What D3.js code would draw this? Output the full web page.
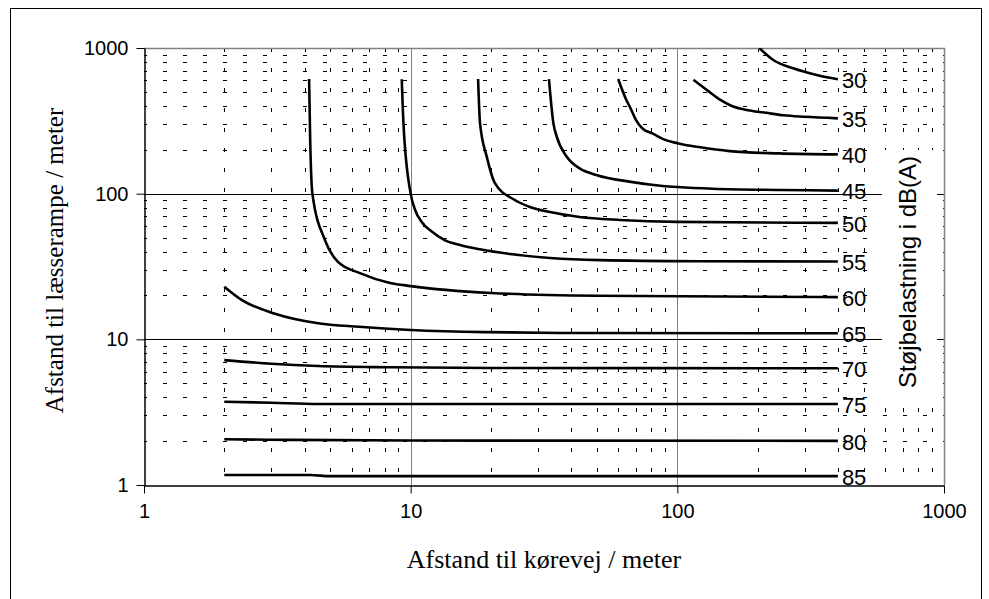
<!DOCTYPE html>
<html>
<head>
<meta charset="utf-8">
<script src="https://cdn.jsdelivr.net/npm/d3@7"></script>
<style>
  body { margin: 0; background: #fff; }
  .tick text { font-family: "Liberation Sans", Arial, sans-serif; font-size: 20px; fill: #000; }
</style>
</head>
<body>
<svg id="chart"></svg>
<script>
const width = 989;
const height = 599;
const margin = { top: 48, right: 45, bottom: 114, left: 144 };

// tick values on both log axes
const decades = [1, 10, 100, 1000];

// noise levels in dB(A), one contour per level
const levels = [30, 35, 40, 45, 50, 55, 60, 65, 70, 75, 80, 85];

// contour points: [distance to road, distance to loading ramp]
const c30 = [[203, 1000], [229, 827], [272, 726], [333, 653], [400, 610]];
const c35 = [[115, 605], [130, 510], [145, 440], [160, 400], [180, 377], [215, 359], [250, 345], [300, 337], [400, 329]];
const c40 = [[60, 612], [64, 450], [67, 380], [70, 320], [74, 280], [81, 258], [89, 236], [100, 222], [122, 208], [157, 196], [240, 189], [400, 186]];
const c45 = [[33, 612], [34.3, 304], [35.3, 246], [38.5, 179], [43, 149], [50, 134], [66, 121], [88, 113], [100, 111], [136, 108], [243, 106], [400, 105]];
const c50 = [[17.9, 612], [18.2, 305], [19.3, 179], [20.7, 118], [24.3, 91.5], [28, 81], [33.3, 74.8], [43, 69.2], [61, 66], [100, 64], [400, 63]];
const c55 = [[9.26, 610], [9.4, 300], [10, 100], [10.4, 77], [11, 64], [12, 55], [13.4, 48], [15.3, 44.5], [18.2, 41.5], [23.6, 38.5], [33.3, 36.2], [51.3, 35], [122, 34.4], [400, 34.2]];
const c60 = [[4.16, 612], [4.2, 233], [4.28, 100], [4.77, 48], [5.34, 34], [6.45, 28.5], [8.37, 24.4], [10, 23.2], [20, 20.8], [50, 19.9], [400, 19.5]];
const c65 = [[2, 23], [2.33, 18.6], [3.1, 15], [4.5, 12.9], [6.4, 12.2], [10, 11.6], [19, 11.2], [45, 11.05], [400, 11.0]];
const c70 = [[2, 7.2], [3, 6.8], [4.5, 6.56], [8.4, 6.43], [20, 6.36], [400, 6.33]];
const c75 = [[2, 3.73], [3, 3.67], [4.5, 3.6], [400, 3.6]];
const c80 = [[2, 2.06], [3.6, 2.04], [10, 2.02], [400, 2.01]];
const c85 = [[2, 1.17], [4.2, 1.17], [5, 1.15], [400, 1.15]];
const contours = [c30, c35, c40, c45, c50, c55, c60, c65, c70, c75, c80, c85];

const xTitle = "Afstand til kørevej / meter";
const yTitle = "Afstand til læsserampe / meter";
const zTitle = "Støjbelastning i dB(A)";

const svg = d3.select("#chart").attr("width", width).attr("height", height);

// outer chart frame
svg.append("rect")
  .attr("x", 10.5).attr("y", 8.5)
  .attr("width", 971).attr("height", 620)
  .attr("fill", "#fff").attr("stroke", "#000");

const x = d3.scaleLog().domain([1, 1000]).range([margin.left, width - margin.right]);
const y = d3.scaleLog().domain([1, 1000]).range([height - margin.bottom, margin.top]);

const [x0, x1] = x.range();
const [y1, y0] = y.range();

// minor values 2..9 in each decade
const minors = [];
decades.slice(0, 3).forEach((d) => {
  for (let k = 2; k <= 9; k++) minors.push(d * k);
});

const grid = svg.append("g").attr("class", "grid");

grid.selectAll("line.hminor")
  .data(minors)
  .enter()
  .append("line")
  .attr("class", "hminor")
  .attr("x1", x0).attr("x2", x1)
  .attr("y1", (d) => Math.round(y(d)) + 0.5)
  .attr("y2", (d) => Math.round(y(d)) + 0.5)
  .attr("stroke", "#000")
  .attr("stroke-dasharray", "4,16")
  .attr("stroke-dashoffset", 1);

grid.selectAll("line.vminor")
  .data(minors)
  .enter()
  .append("line")
  .attr("class", "vminor")
  .attr("y1", y0).attr("y2", y1)
  .attr("x1", (d) => Math.round(x(d)) + 0.5)
  .attr("x2", (d) => Math.round(x(d)) + 0.5)
  .attr("stroke", "#000")
  .attr("stroke-dasharray", "4,16");

// major grid: vertical grey, horizontal black
grid.selectAll("line.vmajor")
  .data([10, 100])
  .enter()
  .append("line")
  .attr("x1", (d) => Math.round(x(d)) + 0.5)
  .attr("x2", (d) => Math.round(x(d)) + 0.5)
  .attr("y1", y0).attr("y2", y1)
  .attr("stroke", "#808080");

grid.selectAll("line.hmajor")
  .data([10, 100])
  .enter()
  .append("line")
  .attr("y1", (d) => Math.round(y(d)) + 0.5)
  .attr("y2", (d) => Math.round(y(d)) + 0.5)
  .attr("x1", x0).attr("x2", x1)
  .attr("stroke", "#000");

// plot border (top and right)
svg.append("path")
  .attr("d", `M${x0},${y0 + 0.5}H${x1 + 0.5}V${y1}`)
  .attr("fill", "none")
  .attr("stroke", "#808080")
  .attr("stroke-width", 1.5);

// axes
const xAxis = svg.append("g")
  .attr("transform", `translate(0,${y1 + 0.5})`)
  .call(d3.axisBottom(x).tickValues(decades).tickFormat(d3.format("d")).tickSize(8).tickSizeOuter(0).tickPadding(10));

const yAxis = svg.append("g")
  .attr("transform", `translate(${x0 + 0.5},0)`)
  .call(d3.axisLeft(y).tickValues(decades).tickFormat(d3.format("d")).tickSize(8).tickSizeOuter(0).tickPadding(8));

[xAxis, yAxis].forEach((a) => {
  a.select(".domain").attr("stroke", "#000").attr("stroke-width", 1.5);
  a.selectAll(".tick line").attr("stroke", "#000");
});

// contour lines
svg.append("clipPath").attr("id", "plotClip")
  .append("rect")
  .attr("x", x0).attr("y", y0)
  .attr("width", x1 - x0).attr("height", y1 - y0);

const line = d3.line()
  .x((d) => x(d[0]))
  .y((d) => y(d[1]))
  .curve(d3.curveMonotoneX);

svg.append("g")
  .attr("clip-path", "url(#plotClip)")
  .selectAll("path.contour")
  .data(contours)
  .enter()
  .append("path")
  .attr("class", "contour")
  .attr("d", line)
  .attr("fill", "none")
  .attr("stroke", "#000")
  .attr("stroke-width", 2.6);

svg.append("g")
  .selectAll("text.level")
  .data(contours)
  .enter()
  .append("text")
  .attr("class", "level")
  .attr("x", (d) => x(d[d.length - 1][0]) + 4)
  .attr("y", (d) => y(d[d.length - 1][1]) + 1)
  .attr("dy", "0.35em")
  .attr("font-family", "'Liberation Sans', Arial, sans-serif")
  .attr("font-size", 22)
  .text((d, i) => levels[i]);

// right-hand label for the contour levels (clipped at the top like the original)
svg.append("clipPath").attr("id", "zClip")
  .append("rect")
  .attr("x", 882).attr("y", 157)
  .attr("width", 55).attr("height", 243);

svg.append("rect")
  .attr("x", 882).attr("y", 150)
  .attr("width", 55).attr("height", 250)
  .attr("fill", "#fff");

svg.append("g")
  .attr("clip-path", "url(#zClip)")
  .append("text")
  .attr("transform", "translate(916,388) rotate(-90)")
  .attr("font-family", "'Liberation Sans', Arial, sans-serif")
  .attr("font-size", 24)
  .text(zTitle);

// axis titles
svg.append("text")
  .attr("x", (x0 + x1) / 2)
  .attr("y", 568)
  .attr("text-anchor", "middle")
  .attr("font-family", "'Liberation Serif', 'Times New Roman', serif")
  .attr("font-size", 26)
  .text(xTitle);

svg.append("text")
  .attr("transform", `translate(63,${(y0 + y1) / 2 - 6}) rotate(-90)`)
  .attr("text-anchor", "middle")
  .attr("font-family", "'Liberation Serif', 'Times New Roman', serif")
  .attr("font-size", 25)
  .text(yTitle);
</script>
</body>
</html>
